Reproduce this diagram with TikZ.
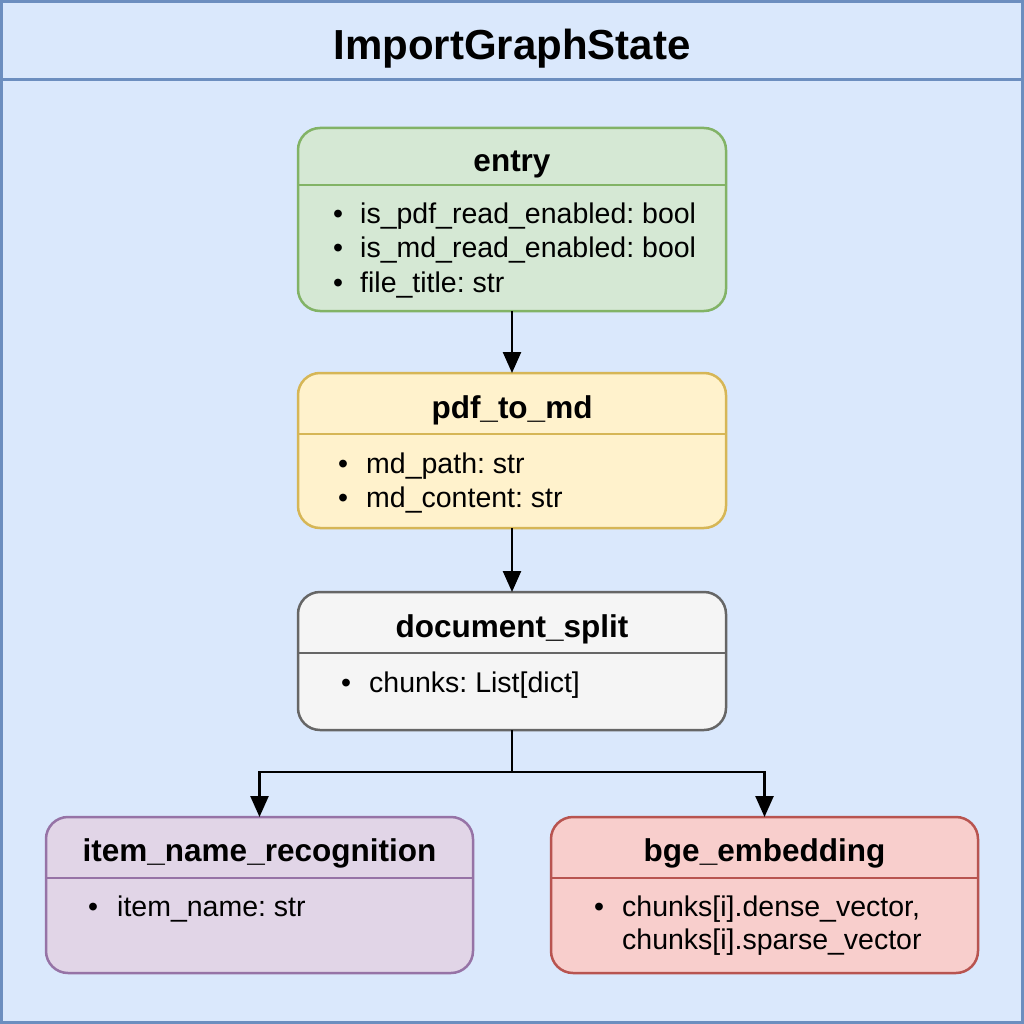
\documentclass[tikz,border=0pt]{standalone}
\usepackage{fontspec}
\setmainfont{Liberation Sans}
\usetikzlibrary{arrows.meta}
\frenchspacing
\definecolor{bgfill}{HTML}{DAE8FC}
\definecolor{bgline}{HTML}{6C8EBF}
\definecolor{gfill}{HTML}{D5E8D4}
\definecolor{gline}{HTML}{82B366}
\definecolor{yfill}{HTML}{FFF2CC}
\definecolor{yline}{HTML}{D6B656}
\definecolor{kfill}{HTML}{F5F5F5}
\definecolor{kline}{HTML}{666666}
\definecolor{pfill}{HTML}{E1D5E7}
\definecolor{pline}{HTML}{9673A6}
\definecolor{rfill}{HTML}{F8CECC}
\definecolor{rline}{HTML}{B85450}
\tikzset{
  statebox/.style={draw, rounded corners=22pt, line width=2.5pt, inner sep=0pt, outer sep=0pt, rectangle},
  divider/.style={line width=2pt},
  hdr/.style={anchor=base, inner sep=0pt, font=\fontsize{31.5}{36}\selectfont\bfseries},
  item/.style={anchor=base west, inner sep=0pt, font=\fontsize{28.5}{34}\selectfont},
  bul/.style={anchor=base, inner sep=0pt, font=\fontsize{28.5}{34}\selectfont},
  flow/.style={line width=2.5pt, -{Triangle[width=18pt,length=21pt]}},
  flowline/.style={line width=2.5pt}
}
\begin{document}
\begin{tikzpicture}[x=1pt,y=-1pt]
\useasboundingbox (0,0) rectangle (1024,1024);
% outer container
\node[draw=bgline, fill=bgfill, line width=3pt, minimum width=1021pt, minimum height=1021pt, inner sep=0pt, outer sep=0pt] (frame) at (512,512) {};
\draw[bgline, line width=3pt] (frame.west |- 0,80) -- (frame.east |- 0,80);
\node[anchor=base, inner sep=0pt, font=\fontsize{42}{50}\selectfont\bfseries] (title) at (512,60) {ImportGraphState};

% entry
\node[statebox, draw=gline, fill=gfill, minimum width=428pt, minimum height=183pt] (entry) at (512,219.5) {};
\draw[divider, gline] (entry.west |- 0,185) -- (entry.east |- 0,185);
\node[hdr] (entryh) at (512,172) {entry};
\node[bul] (eb1) at (338,224) {•};
\node[item] (e1) at (360,224) {is\_pdf\_read\_enabled: bool};
\node[bul] (eb2) at (338,258) {•};
\node[item] (e2) at (360,258) {is\_md\_read\_enabled: bool};
\node[bul] (eb3) at (338,292) {•};
\node[item] (e3) at (360,292) {file\_title: str};

% pdf_to_md
\node[statebox, draw=yline, fill=yfill, minimum width=428pt, minimum height=155pt] (pdf) at (512,450.5) {};
\draw[divider, yline] (pdf.west |- 0,434) -- (pdf.east |- 0,434);
\node[hdr] (pdfh) at (512,418) {pdf\_to\_md};
\node[bul] (pb1) at (343,473) {•};
\node[item] (p1) at (366,473) {md\_path: str};
\node[bul] (pb2) at (343,507) {•};
\node[item] (p2) at (366,507) {md\_content: str};

% document_split
\node[statebox, draw=kline, fill=kfill, minimum width=428pt, minimum height=138pt] (split) at (512,661) {};
\draw[divider, kline] (split.west |- 0,653) -- (split.east |- 0,653);
\node[hdr] (splith) at (512,637) {document\_split};
\node[bul] (sb1) at (346,692) {•};
\node[item] (s1) at (369,692) {chunks: List[dict]};

% item_name_recognition
\node[statebox, draw=pline, fill=pfill, minimum width=427pt, minimum height=156pt] (inr) at (259.5,895) {};
\draw[divider, pline] (inr.west |- 0,878) -- (inr.east |- 0,878);
\node[hdr] (inrh) at (259.5,861) {item\_name\_recognition};
\node[bul] (ib1) at (93,916) {•};
\node[item] (i1) at (117,916) {item\_name: str};

% bge_embedding
\node[statebox, draw=rline, fill=rfill, minimum width=427pt, minimum height=156pt] (bge) at (764.5,895) {};
\draw[divider, rline] (bge.west |- 0,878) -- (bge.east |- 0,878);
\node[hdr] (bgeh) at (764.5,861) {bge\_embedding};
\node[bul] (bb1) at (599,916) {•};
\node[item] (b1) at (622,916) {chunks[i].dense\_vector,};
\node[item] (b2) at (622,949) {chunks[i].sparse\_vector};

% connectors
\coordinate (fork) at (512,772);
\draw[flow] (entry.south) -- (pdf.north);
\draw[flow] (pdf.south) -- (split.north);
\draw[flowline] (split.south) -- (fork);
\draw[flow] (fork) -| (inr.north);
\draw[flow] (fork) -| (bge.north);
\end{tikzpicture}
\end{document}
